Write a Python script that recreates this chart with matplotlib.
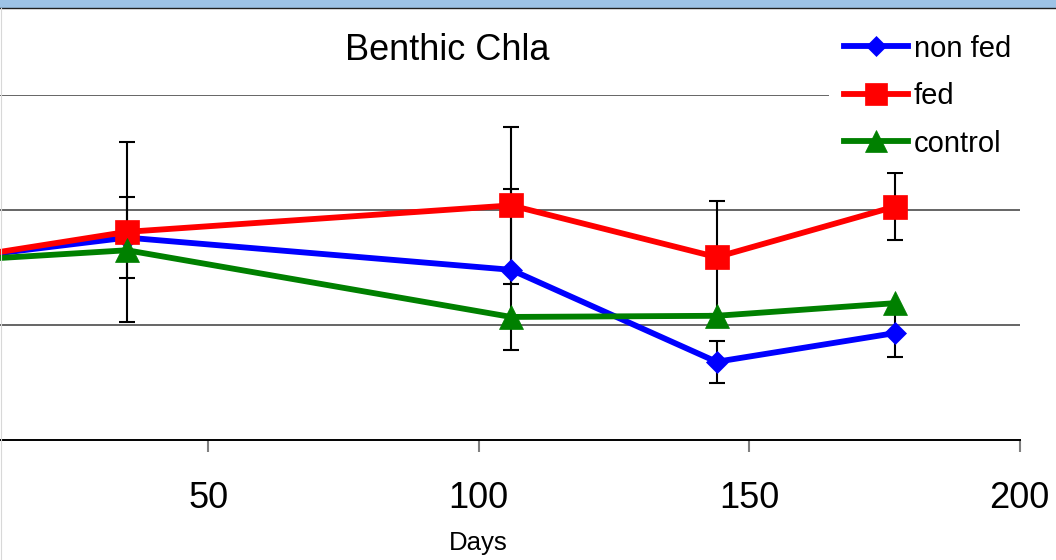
import matplotlib
matplotlib.use("Agg")
import matplotlib.pyplot as plt
from matplotlib.patches import Rectangle
from matplotlib.lines import Line2D

plt.rcParams['font.family'] = ['Liberation Sans', 'DejaVu Sans']

# ---- data (y units = gridline steps) ----
days = [0, 35, 106, 144, 177]
non_fed = [1.56, 1.76, 1.48, 0.68, 0.93]
fed = [1.55, 1.81, 2.04, 1.59, 2.03]
control = [1.55, 1.65, 1.07, 1.08, 1.19]
non_fed_err = [0.10, 0.35, 0.70, 0.18, 0.21]
fed_err = [0.10, 0.78, 0.68, 0.49, 0.29]
x_ticks = [50, 100, 150, 200]
y_grid = [1, 2, 3]
title = "Benthic Chla"
x_label = "Days"
labels = ["non fed", "fed", "control"]

W, H = 1056, 560
fig = plt.figure(figsize=(W / 100, H / 100), dpi=100)

# axes placed so that day 0 lies just off the left edge (cropped chart)
x0_px, x1_px = -62.3, 1019.5
top_px, bot_px = 95, 440
ax = fig.add_axes([x0_px / W, 1 - bot_px / H, (x1_px - x0_px) / W, (bot_px - top_px) / H])
ax.set_xlim(0, 200)
ax.set_ylim(0, 3)
ax.patch.set_alpha(0)

for s in ['top', 'right', 'left']:
    ax.spines[s].set_visible(False)
ax.spines['bottom'].set_color('black')
ax.spines['bottom'].set_linewidth(1.4)

ax.set_yticks(y_grid)
ax.tick_params(axis='y', left=False, labelleft=False)
ax.yaxis.grid(True, color='#3c3c3c', linewidth=1.1)
ax.set_axisbelow(True)

ax.set_xticks(x_ticks)
ax.set_xticklabels([str(v) for v in x_ticks])
ax.tick_params(axis='x', direction='out', length=8.5, width=1.5, color='#808080',
               labelsize=26, pad=21)
ax.set_xlabel(x_label, fontsize=18.5, labelpad=11)

lw = 4.2
series = [
    (non_fed, non_fed_err, '#0000FF', 'D', 11.5),
    (fed, fed_err, '#FF0000', 's', 17.5),
    (control, None, '#008000', '^', 17.5),
]
for (vals, err, col, mk, ms) in series:
    if err is not None:
        ax.errorbar(days, vals, yerr=err, fmt='none', ecolor='black',
                    elinewidth=1.5, capsize=5.8, capthick=1.5, zorder=2,
                    clip_on=False)
handles = []
for (vals, err, col, mk, ms), lab in zip(series, labels):
    h, = ax.plot(days, vals, color=col, linewidth=lw, marker=mk, markersize=ms,
                 markeredgewidth=0.5, markeredgecolor=col, markerfacecolor=col,
                 label=lab, zorder=3, clip_on=False)
    handles.append(h)

fig.text(447 / W, 1 - 50 / H, title, fontsize=26, ha='center', va='center')

leg = fig.legend(handles=handles, labels=labels, loc='upper left',
                 bbox_to_anchor=(829 / W, 1 - 20 / H), fontsize=21,
                 frameon=True, fancybox=False, borderpad=0.5, borderaxespad=0,
                 handlelength=2.2, handletextpad=0.2, labelspacing=0.67,
                 markerscale=0.9)
leg.get_frame().set_facecolor('white')
leg.get_frame().set_edgecolor('none')
leg.get_frame().set_alpha(1)

# top light-blue strip and frame remnants from the crop
fig.patches.append(Rectangle((0, 1 - 7.5 / H), 1, 7.5 / H, transform=fig.transFigure,
                             facecolor='#9DC3E6', edgecolor='none', zorder=0))
fig.add_artist(Line2D([0, 1], [1 - 8 / H, 1 - 8 / H], transform=fig.transFigure,
                      color='#202020', linewidth=1.0))
fig.add_artist(Line2D([0.5 / W, 0.5 / W], [0, 1 - 8 / H], transform=fig.transFigure,
                      color='#d8d8d8', linewidth=0.8))

fig.savefig("out.png", dpi=100)
